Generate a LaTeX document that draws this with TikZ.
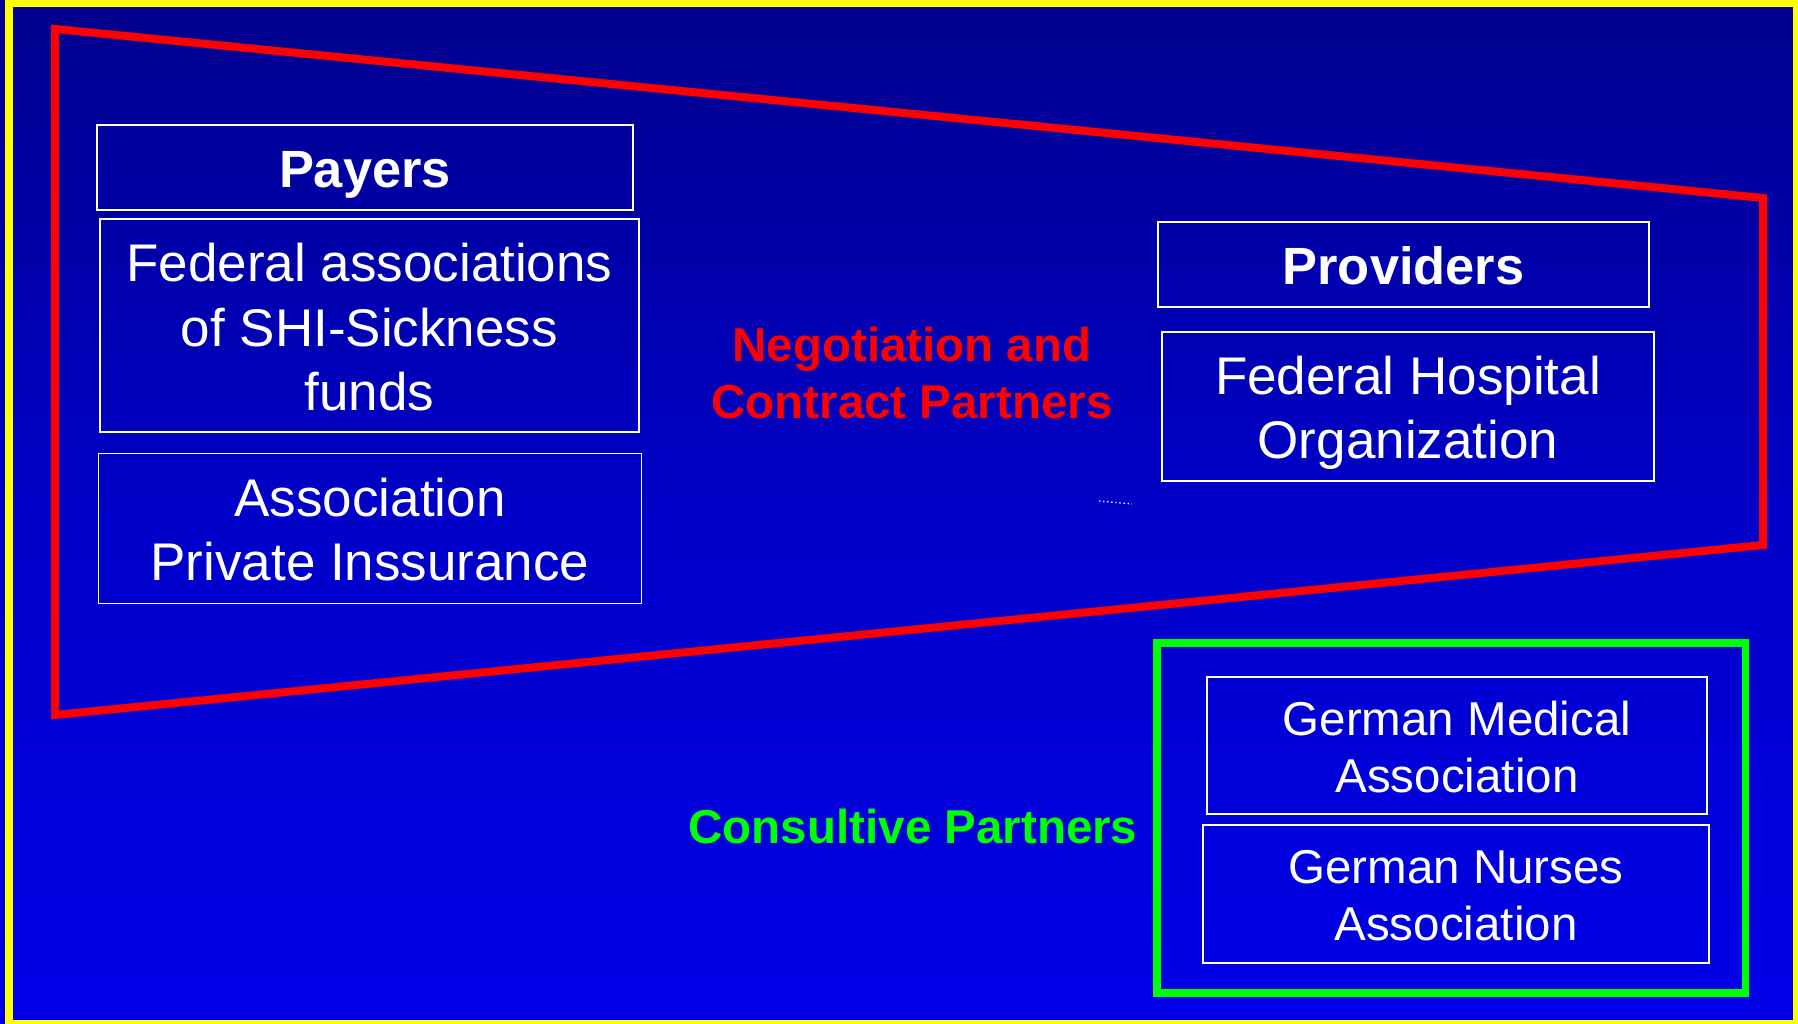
\documentclass[tikz,border=0pt]{standalone}
\usepackage{fontspec}
\setmainfont{Liberation Sans}
\definecolor{bgtop}{RGB}{0,0,140}
\definecolor{bgmid}{RGB}{0,0,200}
\definecolor{bgbot}{RGB}{0,0,232}
\definecolor{frameyellow}{RGB}{255,255,0}
\definecolor{negred}{RGB}{255,0,0}
\definecolor{consgreen}{RGB}{0,255,0}
\begin{document}
\begin{tikzpicture}[x=1pt,y=-1pt,
  wbox/.style={draw=white,line width=1.5pt,rectangle,inner sep=0pt,minimum width=#1},
  txt/.style={anchor=base,inner sep=0pt,text=white},
  regtext/.style={txt,font=\fontsize{53}{64}\selectfont},
  smalltext/.style={txt,font=\fontsize{47.5}{57}\selectfont},
  headtext/.style={txt,font=\fontsize{52.4}{63}\selectfont\bfseries},
  partnertext/.style={anchor=base,inner sep=0pt,font=\fontsize{47.5}{57}\selectfont\bfseries}]
\useasboundingbox (0,0) rectangle (1798,1024);
% background
\shade[top color=bgtop,bottom color=bgbot,middle color=bgmid] (0,0) rectangle (1798,1024);
\draw[frameyellow,line width=8pt] (9.2,2.7) rectangle (1797.3,1024);
% red trapezoid
\draw[negred,line width=8pt,line join=miter] (55,29) -- (1763,198) -- (1763,545) -- (55,715) -- cycle;
% green frame
\draw[consgreen,line width=7.5pt] (1157,643) rectangle (1745.5,993);
% boxes
\node[wbox=536pt,minimum height=85pt] (payers) at (365,167.5) {};
\node[wbox=539pt,minimum height=213pt] (fedassoc) at (369.5,325.5) {};
\node[wbox=543pt,minimum height=150pt] (private) at (370,528.3) {};
\node[wbox=491pt,minimum height=85pt] (providers) at (1403.5,264.5) {};
\node[wbox=492pt,minimum height=149pt] (hospital) at (1408,406.5) {};
\node[wbox=500pt,minimum height=137pt] (gmed) at (1457,745.5) {};
\node[wbox=506pt,minimum height=138pt] (gnurse) at (1456,894) {};
% texts
\node[headtext] (payerstxt) at (365,188) {Payers};
\node[regtext] (fedassoctxt) at (369.5,282) {\begin{tabular}[t]{@{}c@{}}Federal associations\\of SHI-Sickness\\funds\end{tabular}};
\node[regtext] (privatetxt) at (370,516.7) {\begin{tabular}[t]{@{}c@{}}Association\\Private Inssurance\end{tabular}};
\node[headtext] (providerstxt) at (1403.5,284) {Providers};
\node[regtext] (hospitaltxt) at (1408,394) {\begin{tabular}[t]{@{}c@{}}Federal Hospital\\Organization\end{tabular}};
\node[smalltext] (gmedtxt) at (1457,735) {\begin{tabular}[t]{@{}c@{}}German Medical\\Association\end{tabular}};
\node[smalltext] (gnursetxt) at (1456,883) {\begin{tabular}[t]{@{}c@{}}German Nurses\\Association\end{tabular}};
\node[partnertext,text=negred] (negotiation) at (912,361.7) {\begin{tabular}[t]{@{}c@{}}Negotiation and\\Contract Partners\end{tabular}};
\node[partnertext,text=consgreen] (consultive) at (913,843) {Consultive Partners};
% small dotted mark
\coordinate (dotA) at (1099,501);
\coordinate (dotB) at (1132,504);
\draw[white,line width=1.3pt,dash pattern=on 1.3pt off 2.8pt] (dotA) -- (dotB);
\end{tikzpicture}
\end{document}
